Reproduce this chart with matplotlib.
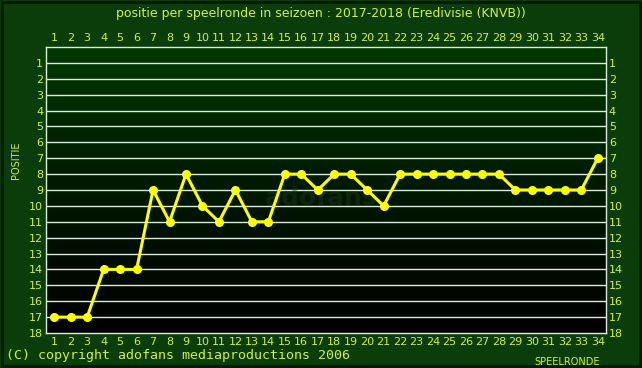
import numpy as np
import matplotlib.pyplot as plt
from matplotlib.patches import Rectangle
from matplotlib.colors import LinearSegmentedColormap

rounds = list(range(1, 35))
positions = [17, 17, 17, 14, 14, 14, 9, 11, 8, 10, 11, 9, 11, 11, 8, 8, 9,
             8, 8, 9, 10, 8, 8, 8, 8, 8, 8, 8, 9, 9, 9, 9, 9, 7]
ylabels = list(range(1, 19))

bg = '#0b3d0b'
txt = '#d4f040'

fig = plt.figure(figsize=(6.42, 3.68), dpi=100, facecolor=bg)
ax = fig.add_axes([46 / 642, 1 - 333 / 368, 560 / 642, 286 / 368])
ax.set_facecolor('black')

# gradient: dark green at top, black at bottom
grad = np.linspace(0, 1, 256).reshape(-1, 1)
cmap = LinearSegmentedColormap.from_list('g', ['#003800', '#001800', '#000000'])
ax.imshow(grad, extent=[0.5, 34.5, 18, 0], aspect='auto', cmap=cmap, zorder=0)

for y in range(1, 18):
    ax.axhline(y, color='#dcecdc', lw=1.0, zorder=1)

# faint watermark
ax.text(17.2, 9.5, 'adofans', color='#1c3a1c', fontsize=18, ha='center',
        va='center', fontweight='bold', alpha=0.45, zorder=1)

ax.plot(rounds, positions, color='#ffff00', lw=2.2, marker='o', ms=5.5, zorder=3)

ax.set_xlim(0.5, 34.5)
ax.set_ylim(18, 0)
ax.set_xticks(rounds)
ax.set_yticks(ylabels)
ax.tick_params(axis='x', top=True, labeltop=True, length=0, pad=3,
               labelsize=8, colors=txt)
ax.tick_params(axis='y', right=True, labelright=True, length=0, pad=2,
               labelsize=8, colors=txt)
for s in ax.spines.values():
    s.set_color('#dcecdc')
    s.set_linewidth(1)

fig.text(0.5, 1 - 14 / 368, 'positie per speelronde in seizoen : 2017-2018 (Eredivisie (KNVB))',
         color=txt, fontsize=9, ha='center', va='center')
fig.text(6 / 642, 1 - 356 / 368, '(C) copyright adofans mediaproductions 2006',
         color=txt, fontsize=9.5, family='DejaVu Sans Mono', ha='left', va='center')
fig.text(534 / 642, 1 - 362 / 368, 'SPEELRONDE', color=txt, fontsize=7,
         ha='left', va='center')
fig.text(16 / 642, 1 - 160 / 368, 'POSITIE', color=txt, fontsize=7,
         rotation=90, ha='center', va='center')

fig.patches.append(Rectangle((2 / 642, 2 / 368), 638 / 642, 364 / 368,
                             transform=fig.transFigure, fill=False,
                             edgecolor='#001a00', lw=2))

plt.savefig('out.png', dpi=100, facecolor=bg)
